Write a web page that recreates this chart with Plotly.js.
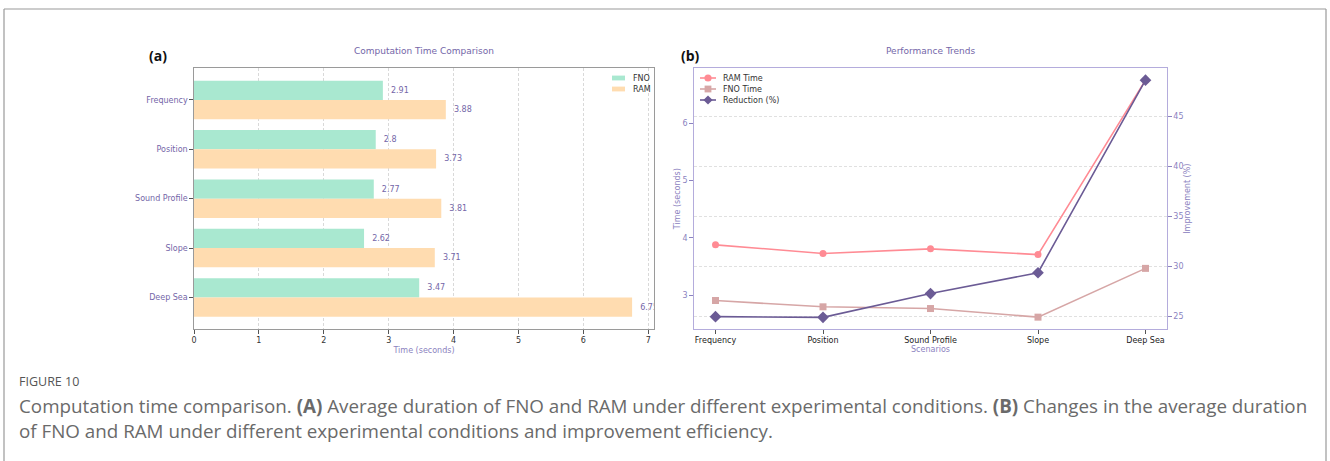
<!DOCTYPE html>
<html>
<head>
<meta charset="utf-8">
<script src="https://cdn.plot.ly/plotly-3.0.1.min.js"></script>
<style>
html,body{margin:0;padding:0;background:#fff;}
#chart{width:1330px;height:461px;}
</style>
</head>
<body>
<div id="chart"></div>
<script>
// ---- data ----
const scenarios = ["Frequency", "Position", "Sound Profile", "Slope", "Deep Sea"];
const fnoTime = [2.91, 2.8, 2.77, 2.62, 3.47];
const ramTime = [3.88, 3.73, 3.81, 3.71, 6.75];
const reductionPct = [25.0, 24.93, 27.30, 29.38, 48.59];
const timeTicks = [0, 1, 2, 3, 4, 5, 6, 7];
const leftTicks = [3, 4, 5, 6];
const rightTicks = [25, 30, 35, 40, 45];

// ---- geometry helpers (pixels -> paper) ----
const W = 1330, H = 461;
const px = v => v / W;
const py = v => 1 - v / H;

const purple = "#7466a8";
const purpleLight = "#8b82c0";
const fam = "DejaVu Sans";

const colFNO = "#a9e8d0", colRAM = "#ffdcb0";
const colRAMt = "#ff8b94", colFNOt = "#d6a6a6", colRed = "#6b5b95";

const traces = [
  {
    type: "bar", orientation: "h", name: "FNO",
    y: scenarios, x: fnoTime,
    text: fnoTime.map(v => "  " + v), textposition: "outside",
    textfont: {family: fam, size: 8, color: purple},
    constraintext: "none", cliponaxis: true,
    marker: {color: colFNO}, xaxis: "x", yaxis: "y", showlegend: false
  },
  {
    type: "bar", orientation: "h", name: "RAM",
    y: scenarios, x: ramTime,
    text: ramTime.map(v => "  " + v), textposition: "outside",
    textfont: {family: fam, size: 8, color: purple},
    constraintext: "none", cliponaxis: true,
    marker: {color: colRAM}, xaxis: "x", yaxis: "y", showlegend: false
  },
  {
    type: "scatter", mode: "lines+markers", name: "RAM Time",
    x: scenarios, y: ramTime, xaxis: "x2", yaxis: "y2",
    line: {color: colRAMt, width: 1.6},
    marker: {symbol: "circle", size: 7, color: colRAMt}, showlegend: false
  },
  {
    type: "scatter", mode: "lines+markers", name: "FNO Time",
    x: scenarios, y: fnoTime, xaxis: "x2", yaxis: "y2",
    line: {color: colFNOt, width: 1.6},
    marker: {symbol: "square", size: 7, color: colFNOt}, showlegend: false
  },
  {
    type: "scatter", mode: "lines+markers", name: "Reduction (%)",
    x: scenarios, y: reductionPct, xaxis: "x2", yaxis: "y3",
    line: {color: colRed, width: 1.6},
    marker: {symbol: "diamond", size: 9, color: colRed}, showlegend: false
  }
];

const yDom = [py(329), py(68.3)];
const tickFont = {family: fam, size: 8, color: "#333"};

// ---- manual legends ----
const shapes = [
  {type: "line", xref: "paper", yref: "paper", x0: px(4), x1: px(1326), y0: py(9), y1: py(9), line: {color: "#999", width: 1.2}},
  {type: "line", xref: "paper", yref: "paper", x0: px(4), x1: px(4), y0: py(9), y1: py(470), line: {color: "#999", width: 1.2}},
  {type: "line", xref: "paper", yref: "paper", x0: px(1326), x1: px(1326), y0: py(9), y1: py(470), line: {color: "#999", width: 1.2}}
];
const annotations = [];
function legText(t, x, y) {
  annotations.push({text: t, x: px(x), y: py(y), xref: "paper", yref: "paper", showarrow: false,
    xanchor: "left", yanchor: "middle", font: {family: fam, size: 8, color: "#333"}});
}
// legend (a)
[[colFNO, "FNO", 78], [colRAM, "RAM", 89]].forEach(([c, t, y]) => {
  shapes.push({type: "rect", xref: "paper", yref: "paper", x0: px(612), x1: px(625),
    y0: py(y + 2.4), y1: py(y - 2.4), fillcolor: c, line: {width: 0}});
  legText(t, 631, y);
});
// legend (b)
const lx0 = 700, lx1 = 716, lc = 708;
[[colRAMt, "RAM Time", 78, "circle"], [colFNOt, "FNO Time", 89, "square"], [colRed, "Reduction (%)", 100, "diamond"]].forEach(([c, t, y, s]) => {
  shapes.push({type: "line", xref: "paper", yref: "paper", x0: px(lx0), x1: px(lx1), y0: py(y), y1: py(y), line: {color: c, width: 1.6}});
  if (s === "circle") {
    shapes.push({type: "circle", xref: "paper", yref: "paper", x0: px(lc - 3.6), x1: px(lc + 3.6), y0: py(y + 3.6), y1: py(y - 3.6), fillcolor: c, line: {width: 0}});
  } else if (s === "square") {
    shapes.push({type: "rect", xref: "paper", yref: "paper", x0: px(lc - 3.4), x1: px(lc + 3.4), y0: py(y + 3.4), y1: py(y - 3.4), fillcolor: c, line: {width: 0}});
  } else {
    const d = 4.6;
    shapes.push({type: "path", xref: "paper", yref: "paper",
      path: `M${px(lc)},${py(y - d)} L${px(lc + d)},${py(y)} L${px(lc)},${py(y + d)} L${px(lc - d)},${py(y)} Z`,
      fillcolor: c, line: {width: 0}});
  }
  legText(t, 721, y);
});

annotations.push(
  {text: "Computation Time Comparison", x: px(424), y: py(50.7), xref: "paper", yref: "paper",
   showarrow: false, xanchor: "center", yanchor: "middle", font: {family: fam, size: 9, color: purple}},
  {text: "Performance Trends", x: px(930.5), y: py(50.7), xref: "paper", yref: "paper",
   showarrow: false, xanchor: "center", yanchor: "middle", font: {family: fam, size: 9, color: purple}},
  {text: "<b>(a)</b>", x: px(147), y: py(56), xref: "paper", yref: "paper",
   showarrow: false, xanchor: "left", yanchor: "middle", font: {family: "Open Sans", size: 14, color: "#111"}},
  {text: "<b>(b)</b>", x: px(679), y: py(56), xref: "paper", yref: "paper",
   showarrow: false, xanchor: "left", yanchor: "middle", font: {family: "Open Sans", size: 14, color: "#111"}},
  {text: "FIGURE 10", x: px(17), y: py(381), xref: "paper", yref: "paper",
   showarrow: false, xanchor: "left", yanchor: "middle", font: {family: "Open Sans", size: 12.5, color: "#555"}},
  {text: "Computation time comparison. <b>(A)</b> Average duration of FNO and RAM under different experimental conditions. <b>(B)</b> Changes in the average duration",
   x: px(17), y: py(406), xref: "paper", yref: "paper",
   showarrow: false, xanchor: "left", yanchor: "middle", font: {family: "Open Sans", size: 18.8, color: "#6a6a6a"}},
  {text: "of FNO and RAM under different experimental conditions and improvement efficiency.",
   x: px(17), y: py(431), xref: "paper", yref: "paper",
   showarrow: false, xanchor: "left", yanchor: "middle", font: {family: "Open Sans", size: 18.8, color: "#6a6a6a"}}
);

const layout = {
  width: W, height: H,
  margin: {l: 0, r: 0, t: 0, b: 0},
  paper_bgcolor: "#fff", plot_bgcolor: "#fff",
  barmode: "group", bargap: 0.22, bargroupgap: 0,
  font: {family: fam, size: 8, color: "#333"},
  showlegend: false,
  xaxis: {
    domain: [px(194), px(654)], anchor: "y",
    range: [0, 7.0875], tickvals: timeTicks,
    showgrid: true, gridcolor: "#cfcfcf", griddash: "3px,2px", gridwidth: 0.8,
    zeroline: false,
    showline: true, linecolor: "#9a9a9a", linewidth: 1.2, mirror: true,
    ticks: "outside", ticklen: 3.5, tickcolor: "#555", tickfont: tickFont,
    title: {text: "Time (seconds)", font: {family: fam, size: 8, color: purpleLight}, standoff: 3}
  },
  yaxis: {
    domain: yDom, anchor: "x",
    type: "category", categoryorder: "array", categoryarray: scenarios,
    range: [4.64, -0.64],
    showgrid: false, zeroline: false,
    showline: true, linecolor: "#9a9a9a", linewidth: 1.2, mirror: true,
    ticks: "outside", ticklen: 3.5, tickcolor: "#555",
    tickfont: {family: fam, size: 8, color: purple}
  },
  xaxis2: {
    domain: [px(694), px(1167)], anchor: "y2",
    type: "category", categoryorder: "array", categoryarray: scenarios,
    range: [-0.2, 4.2],
    showgrid: false, zeroline: false,
    showline: true, linecolor: "#b4acdc", linewidth: 1.2, mirror: true,
    ticks: "outside", ticklen: 3.5, tickcolor: "#555",
    tickfont: {family: fam, size: 8, color: "#222"},
    title: {text: "Scenarios", font: {family: fam, size: 8, color: purpleLight}, standoff: 2}
  },
  yaxis2: {
    domain: yDom, anchor: "x2",
    range: [2.4135, 6.9565], tickvals: leftTicks,
    showgrid: false, zeroline: false,
    showline: true, linecolor: "#b4acdc", linewidth: 1.2,
    ticks: "outside", ticklen: 3.5, tickcolor: "#8b82c0",
    tickfont: {family: fam, size: 8, color: purpleLight},
    title: {text: "Time (seconds)", font: {family: fam, size: 8, color: purpleLight}, standoff: 0}
  },
  yaxis3: {
    overlaying: "y2", side: "right", anchor: "x2",
    range: [23.767, 49.773], tickvals: rightTicks,
    showgrid: true, gridcolor: "#d8d8d8", griddash: "3px,2px", gridwidth: 0.8,
    zeroline: false,
    showline: true, linecolor: "#b4acdc", linewidth: 1.2,
    ticks: "outside", ticklen: 3.5, tickcolor: "#8b82c0",
    tickfont: {family: fam, size: 8, color: purpleLight},
    title: {text: "Improvement (%)", font: {family: fam, size: 8, color: purpleLight}, standoff: 2}
  },
  annotations: annotations,
  shapes: shapes
};

Plotly.newPlot("chart", traces, layout, {displayModeBar: false, staticPlot: true});
</script>
</body>
</html>
